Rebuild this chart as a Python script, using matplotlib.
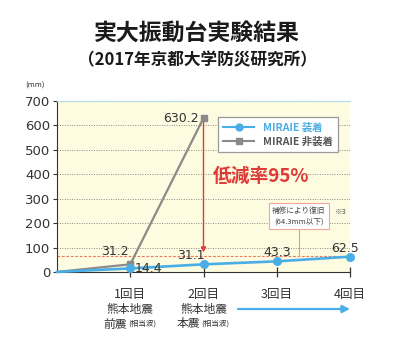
import matplotlib
matplotlib.use("Agg")
import matplotlib.pyplot as plt
from matplotlib.transforms import blended_transform_factory

plt.rcParams['font.family'] = ['Noto Sans CJK JP', 'DejaVu Sans']

# data
rounds = [0, 1, 2, 3, 4]
with_miraie = [0, 14.4, 31.1, 43.3, 62.5]
rounds_without = [0, 1, 2]
without_miraie = [0, 31.2, 630.2]
tick_labels = ["1回目", "2回目", "3回目", "4回目"]
quake_names = ["熊本地震", "熊本地震"]
quake_kinds = ["前震", "本震"]
limit_value = 64.3

blue = "#4aaee6"
gray = "#8a8a8a"
red = "#e03a36"

fig = plt.figure(figsize=(3.97, 3.55), dpi=100)
ax = fig.add_axes([0.1436, 0.234, 0.738, 0.4815])
ax.set_facecolor("#fdfbe0")

for v in range(100, 700, 100):
    ax.axhline(v, color="#8c8c8c", lw=0.7, ls=(0, (1, 1.5)), zorder=1)
ax.axhline(limit_value, color="#ec7a60", lw=0.8, ls=(0, (2.5, 1.5)), zorder=1)

ax.plot(rounds_without, without_miraie, color=gray, lw=1.6, zorder=3)
ax.plot(rounds_without[1:], without_miraie[1:], ls="none", marker="s",
        ms=5, color=gray, zorder=4, clip_on=False)
ax.plot(rounds, with_miraie, color=blue, lw=1.9, zorder=5, clip_on=False)
ax.plot(rounds[1:], with_miraie[1:], ls="none", marker="o", ms=5.5,
        color=blue, zorder=6, clip_on=False)

# legend proxies
h1, = ax.plot([], [], color=blue, lw=1.5, marker="o", ms=5, label="MIRAIE 装着")
h2, = ax.plot([], [], color=gray, lw=1.5, marker="s", ms=4.5, label="MIRAIE 非装着")
leg = ax.legend(handles=[h1, h2], loc="upper right", bbox_to_anchor=(0.976, 0.936),
                fancybox=False, framealpha=1, edgecolor="#9a9a9a",
                prop={"size": 7.5, "weight": "bold"}, labelcolor=[blue, "#555555"],
                handlelength=3.0, borderpad=0.5, labelspacing=0.35)
leg.get_frame().set_linewidth(0.9)

ax.set_xlim(0, 4)
ax.set_ylim(0, 700)
ax.set_yticks(range(0, 800, 100))
ax.set_xticks([1, 2, 3, 4])
ax.set_xticklabels(tick_labels, fontsize=9, color="#333333")
ax.tick_params(axis="x", direction="inout", length=7, width=0.9, pad=8, colors="#333333")
ax.tick_params(axis="y", direction="out", length=3, width=0.8, labelsize=9.5,
               colors="#333333", pad=2)
for lab in ax.get_yticklabels():
    lab.set_family("DejaVu Sans")

ax.spines["left"].set_color("#333333")
ax.spines["bottom"].set_color("#333333")
ax.spines["top"].set_color("#9fd4ee")
ax.spines["top"].set_linestyle((0, (1, 1.5)))
ax.spines["right"].set_visible(False)

# value labels
lbl = dict(fontsize=9, color="#333333", family="DejaVu Sans", zorder=7)
ax.text(0.98, 57, "31.2", ha="right", va="bottom", **lbl)
ax.text(1.06, 14.4, "14.4", ha="left", va="center", **lbl)
ax.text(1.83, 40, "31.1", ha="center", va="bottom", **lbl)
ax.text(3.0, 52, "43.3", ha="center", va="bottom", **lbl)
ax.text(3.93, 70, "62.5", ha="center", va="bottom", **lbl)
ax.text(1.93, 630.2, "630.2", ha="right", va="center", **lbl)

# reduction arrow
ax.annotate("", xy=(2, 80), xytext=(2, 612),
            arrowprops=dict(arrowstyle="-|>", color=red, lw=1.0,
                            mutation_scale=7, shrinkA=0, shrinkB=0), zorder=6)
ax.text(2.13, 392, "低減率95%", color=red, fontsize=13.5, fontweight="bold",
        ha="left", va="center")

# repair note
ax.plot([3.30, 3.30], [limit_value, 190], color="#ec9a88", lw=0.8, zorder=2)
ax.text(3.30, 229, "補修により復旧\n(64.3mm以下)", fontsize=5.5, color="#444444",
        ha="center", va="center", linespacing=1.5, zorder=6,
        bbox=dict(boxstyle="square,pad=0.45", fc="white", ec="#f0a898", lw=0.8))
ax.text(3.88, 246, "※3", fontsize=5.5, color="#555555", ha="center", va="center")

# quake notes under ticks
tr = blended_transform_factory(ax.transData, fig.transFigure)
for i, (name, kind) in enumerate(zip(quake_names, quake_kinds)):
    x = i + 1
    ax.text(x, 1 - 309 / 355, name, transform=tr, fontsize=8.5, color="#333333",
            ha="center", va="center")
    ax.text(x - 0.04, 1 - 324 / 355, kind, transform=tr, fontsize=8.5,
            color="#333333", ha="right", va="center")
    ax.text(x - 0.03, 1 - 324 / 355, "(相当波)", transform=tr, fontsize=5.5,
            color="#333333", ha="left", va="center")
ax.annotate("", xy=(4, 1 - 309 / 355), xytext=(2.47, 1 - 309 / 355),
            xycoords=tr, textcoords=tr,
            arrowprops=dict(arrowstyle="-|>", color=blue, lw=1.6,
                            mutation_scale=11, shrinkA=0, shrinkB=0),
            annotation_clip=False)

fig.text(0.497, 1 - 33 / 355, "実大振動台実験結果", fontsize=16.5, fontweight="bold",
         ha="center", va="center", color="#1a1a1a")
fig.text(0.497, 1 - 60 / 355, "（2017年京都大学防災研究所）", fontsize=12,
         fontweight="bold", ha="center", va="center", color="#1a1a1a")
fig.text(35 / 397, 1 - 86 / 355, "(mm)", fontsize=5.5, ha="center", va="center",
         color="#333333")

fig.savefig("out.png", dpi=100)
